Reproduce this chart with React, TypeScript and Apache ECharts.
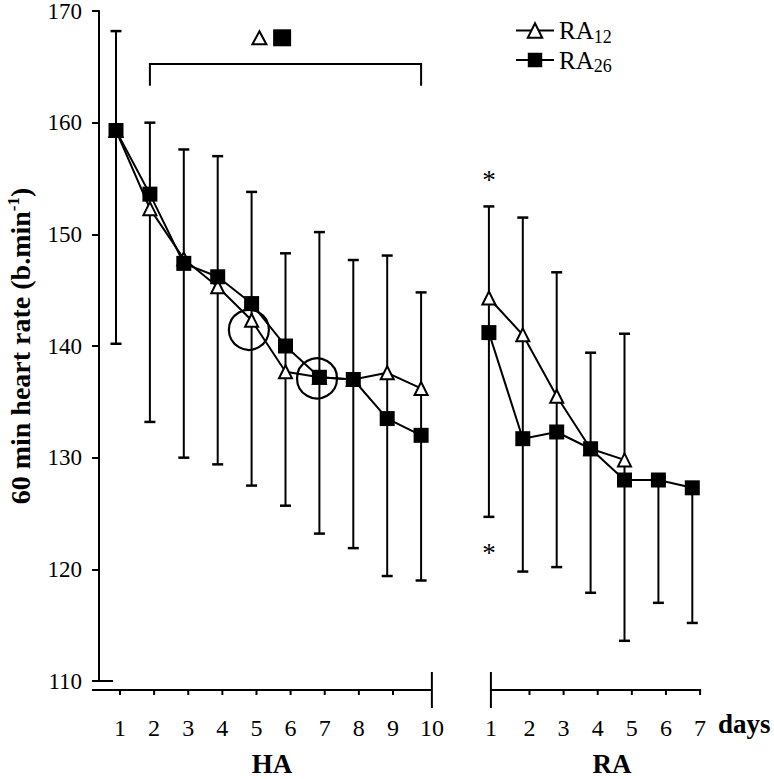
import React, { useEffect, useRef } from "react";
import * as echarts from "echarts";

// ---------- data ----------
const haDays = [1, 2, 3, 4, 5, 6, 7, 8, 9, 10];
const raDays = [1, 2, 3, 4, 5, 6, 7];

// means
const ra12HA = [159.3, 152.3, 147.8, 145.3, 142.3, 137.7, 137.2, 137.0, 137.6, 136.2];
const ra26HA = [159.3, 153.6, 147.4, 146.2, 143.8, 140.0, 137.2, 137.0, 133.5, 132.0];
const ra12RA = [144.3, 141.0, 135.5, 130.8, 129.8];
const ra26RA = [141.2, 131.7, 132.3, 130.8, 128.0, 128.0, 127.3];

// error bar ends (upper = RA12 + SD, lower = RA26 - SD)
const upperHA = [168.2, 160.0, 157.6, 157.0, 153.8, 148.3, 150.2, 147.7, 148.1, 144.8];
const lowerHA = [140.2, 133.2, 130.0, 129.4, 127.5, 125.7, 123.2, 121.9, 119.4, 119.0];
const upperRA = [152.5, 151.5, 146.6, 139.4, 141.1, null, null];
const lowerRA = [124.7, 119.8, 120.2, 117.9, 113.6, 117.0, 115.2];

// annotations
const circledPoints = [
  [4.92, 141.45],
  [6.93, 137.1],
];
const bracketDays = [2, 10];
const bracketY = [165.25, 163.3];
const sigSymbolX = [5.23, 5.9];
const sigSymbolY = 167.6;
const starDay = 1; // RA day
const starY = [154.9, 121.5];

// axes
const yTickValues = [110, 120, 130, 140, 150, 160, 170];
const haTickLabels = ["1", "2", "3", "4", "5", "6", "7", "8", "9", "10"];
const raTickLabels = ["1", "2", "3", "4", "5", "6", "7"];
const groupLabels = ["HA", "RA"];
const unitLabel = "days";
const yTitle = "60 min heart rate (b.min";
const yTitleSup = "-1";

// ---------- layout constants ----------
const RA_OFFSET = 11; // RA day d is plotted at x = 11 + d
const X_MIN = 0.5;
const X_MAX = 18.5;
const END_NUDGE = 0.14;
const START_NUDGE = 0.13;
const SERIF = "'Liberation Serif', 'Times New Roman', serif";
const BLACK = "#000";

const haX = (d: number) => d;
const raX = (d: number) => RA_OFFSET + d;

const labelPos: number[] = [
  ...haDays.map((d) => (d === 10 ? 10 + END_NUDGE : haX(d))),
  ...raDays.map((d) => (d === 1 ? raX(1) - START_NUDGE : raX(d))),
];
const labelText: string[] = [...haTickLabels, ...raTickLabels];

function buildOption(): any {
  const errData: number[][] = [
    ...haDays.map((d, i) => [haX(d), lowerHA[i], upperHA[i] ?? ra26HA[i], upperHA[i] == null ? 0 : 1]),
    ...raDays.map((d, i) => [raX(d), lowerRA[i], upperRA[i] ?? ra26RA[i], upperRA[i] == null ? 0 : 1]),
  ];

  const ra12Style = {
    symbol: "triangle",
    symbolSize: 13,
    itemStyle: { color: "#fff", borderColor: BLACK, borderWidth: 2, opacity: 1 },
    lineStyle: { color: BLACK, width: 2 },
  };
  const ra26Style = {
    symbol: "rect",
    symbolSize: 15,
    itemStyle: { color: BLACK, borderColor: BLACK, borderWidth: 0, opacity: 1 },
    lineStyle: { color: BLACK, width: 2 },
  };

  const stroke = { stroke: BLACK, lineWidth: 2 };

  return {
    animation: false,
    backgroundColor: "#fff",
    grid: [
      { left: 99.05, top: 11, width: 610.2, height: 670, outerBoundsMode: "none" },
      { left: 102.94, top: 672, width: 614.2, height: 36, outerBoundsMode: "none" },
    ],
    xAxis: [
      { type: "value", gridIndex: 0, min: X_MIN, max: X_MAX, show: false },
      {
        type: "value",
        gridIndex: 1,
        min: X_MIN,
        max: X_MAX,
        axisLine: { show: false },
        axisTick: { show: false },
        splitLine: { show: false },
        axisLabel: {
          customValues: labelPos,
          formatter: (v: number) => {
            const i = labelPos.findIndex((p) => Math.abs(p - v) < 1e-6);
            return i >= 0 ? labelText[i] : "";
          },
          margin: 8,
          fontFamily: SERIF,
          fontSize: 24,
          color: BLACK,
        },
      },
    ],
    yAxis: [
      {
        type: "value",
        gridIndex: 0,
        min: yTickValues[0],
        max: yTickValues[yTickValues.length - 1],
        interval: 10,
        axisLine: { show: true, lineStyle: { color: BLACK, width: 2 } },
        axisTick: { show: true, length: 7, lineStyle: { color: BLACK, width: 2 } },
        splitLine: { show: false },
        axisLabel: { fontFamily: SERIF, fontSize: 23, color: BLACK, margin: 17 },
        name: `{t|${yTitle}}{sup|${yTitleSup}}{t|)}`,
        nameLocation: "middle",
        nameRotate: 90,
        nameGap: 64,
        nameTextStyle: {
          rich: {
            t: { fontFamily: SERIF, fontSize: 28, fontWeight: "bold", color: BLACK, lineHeight: 30 },
            sup: {
              fontFamily: SERIF,
              fontSize: 17,
              fontWeight: "bold",
              color: BLACK,
              lineHeight: 17,
              verticalAlign: "top",
            },
          },
        },
      },
      { type: "value", gridIndex: 1, min: 0, max: 1, show: false },
    ],
    legend: {
      data: ["RA12", "RA26"],
      orient: "vertical",
      left: 510,
      top: 13,
      itemWidth: 38,
      itemHeight: 18,
      itemGap: 2,
      selectedMode: false,
      formatter: (name: string) => `{m|${name.slice(0, 2)}}{s|${name.slice(2)}}`,
      textStyle: {
        color: BLACK,
        fontFamily: SERIF,
        rich: {
          m: { fontFamily: SERIF, fontSize: 25, color: BLACK, lineHeight: 30 },
          s: { fontFamily: SERIF, fontSize: 18, color: BLACK, lineHeight: 17, verticalAlign: "bottom" },
        },
      },
    },
    graphic: [
      {
        type: "text",
        x: 272,
        y: 764,
        style: { text: groupLabels[0], font: `bold 27px ${SERIF}`, fill: BLACK, textAlign: "center", textVerticalAlign: "middle" },
      },
      {
        type: "text",
        x: 612,
        y: 764,
        style: { text: groupLabels[1], font: `bold 27px ${SERIF}`, fill: BLACK, textAlign: "center", textVerticalAlign: "middle" },
      },
      {
        type: "text",
        x: 718,
        y: 724,
        style: { text: unitLabel, font: `bold 27px ${SERIF}`, fill: BLACK, textAlign: "left", textVerticalAlign: "middle" },
      },
    ],
    series: [
      // error bars
      {
        type: "custom",
        xAxisIndex: 0,
        yAxisIndex: 0,
        silent: true,
        clip: false,
        encode: { x: 0, y: [1, 2] },
        data: errData,
        renderItem: (_p: any, api: any) => {
          const x = api.value(0);
          const lo = api.coord([x, api.value(1)]);
          const hi = api.coord([x, api.value(2)]);
          const hasTop = api.value(3) === 1;
          const hw = 5.5;
          const children: any[] = [
            { type: "line", shape: { x1: lo[0], y1: lo[1], x2: hi[0], y2: hi[1] }, style: stroke },
            { type: "line", shape: { x1: lo[0] - hw, y1: lo[1], x2: lo[0] + hw, y2: lo[1] }, style: { stroke: BLACK, lineWidth: 2.5 } },
          ];
          if (hasTop) {
            children.push({
              type: "line",
              shape: { x1: hi[0] - hw, y1: hi[1], x2: hi[0] + hw, y2: hi[1] },
              style: { stroke: BLACK, lineWidth: 2.5 },
            });
          }
          return { type: "group", children };
        },
        z: 1,
      },
      {
        name: "RA12",
        type: "line",
        xAxisIndex: 0,
        yAxisIndex: 0,
        silent: true,
        data: haDays.map((d, i) => [haX(d), ra12HA[i]]),
        ...ra12Style,
        z: 2,
      },
      {
        name: "RA12",
        type: "line",
        xAxisIndex: 0,
        yAxisIndex: 0,
        silent: true,
        data: ra12RA.map((v, i) => [raX(raDays[i]), v]),
        ...ra12Style,
        z: 2,
      },
      {
        name: "RA26",
        type: "line",
        xAxisIndex: 0,
        yAxisIndex: 0,
        silent: true,
        data: haDays.map((d, i) => [haX(d), ra26HA[i]]),
        ...ra26Style,
        z: 3,
      },
      {
        name: "RA26",
        type: "line",
        xAxisIndex: 0,
        yAxisIndex: 0,
        silent: true,
        data: raDays.map((d, i) => [raX(d), ra26RA[i]]),
        ...ra26Style,
        z: 3,
      },
      // circled points
      {
        type: "scatter",
        xAxisIndex: 0,
        yAxisIndex: 0,
        silent: true,
        symbol: "circle",
        symbolSize: 40,
        itemStyle: { color: "rgba(0,0,0,0)", borderColor: BLACK, borderWidth: 2.2, opacity: 1 },
        data: circledPoints,
        z: 4,
      },
      // significance symbols
      {
        type: "scatter",
        xAxisIndex: 0,
        yAxisIndex: 0,
        silent: true,
        data: [
          {
            value: [sigSymbolX[0], sigSymbolY],
            symbol: "triangle",
            symbolSize: [14, 13],
            itemStyle: { color: "#fff", borderColor: BLACK, borderWidth: 2, opacity: 1 },
          },
          {
            value: [sigSymbolX[1], sigSymbolY],
            symbol: "rect",
            symbolSize: [18, 17],
            itemStyle: { color: BLACK, opacity: 1 },
          },
        ],
        z: 4,
      },
      // bracket, asterisks, base tick extension
      {
        type: "custom",
        xAxisIndex: 0,
        yAxisIndex: 0,
        silent: true,
        clip: false,
        data: [[X_MIN, yTickValues[0]]],
        renderItem: (_p: any, api: any) => {
          const a = api.coord([bracketDays[0], bracketY[0]]);
          const b = api.coord([bracketDays[1], bracketY[0]]);
          const drop = api.coord([bracketDays[0], bracketY[1]])[1];
          const base = api.coord([X_MIN, yTickValues[0]]);
          const s1 = api.coord([raX(starDay), starY[0]]);
          const s2 = api.coord([raX(starDay), starY[1]]);
          const starStyle = (p: number[]) => ({
            type: "text",
            x: p[0],
            y: p[1],
            style: { text: "*", font: `27px ${SERIF}`, fill: BLACK, textAlign: "center", textVerticalAlign: "middle" },
          });
          return {
            type: "group",
            children: [
              {
                type: "polyline",
                shape: { points: [[a[0], drop], [a[0], a[1]], [b[0], b[1]], [b[0], drop]] },
                style: { stroke: BLACK, lineWidth: 2, fill: "none" },
              },
              { type: "line", shape: { x1: base[0], y1: base[1], x2: base[0] + 14, y2: base[1] }, style: stroke },
              starStyle(s1),
              starStyle(s2),
            ],
          };
        },
        z: 4,
      },
      // broken bottom axis
      {
        type: "custom",
        xAxisIndex: 1,
        yAxisIndex: 1,
        silent: true,
        clip: false,
        data: [[X_MIN, 0.5]],
        renderItem: (_p: any, api: any) => {
          const y = api.coord([X_MIN, 0.5])[1];
          const yTop = api.coord([X_MIN, 1])[1];
          const yBot = api.coord([X_MIN, 0])[1];
          const px = (v: number) => api.coord([v, 0.5])[0];
          const haStart = px(X_MIN) - 11;
          const haEnd = px(10 + END_NUDGE);
          const raStart = px(raX(1) - START_NUDGE);
          const raEnd = px(raX(7)) + 1;
          const children: any[] = [
            { type: "line", shape: { x1: haStart, y1: y, x2: haEnd, y2: y }, style: stroke },
            { type: "line", shape: { x1: raStart, y1: y, x2: raEnd, y2: y }, style: stroke },
            { type: "line", shape: { x1: haEnd, y1: yTop, x2: haEnd, y2: yBot }, style: stroke },
            { type: "line", shape: { x1: raStart, y1: yTop, x2: raStart, y2: yBot }, style: stroke },
          ];
          haDays.slice(0, 9).forEach((d) => {
            const x = px(haX(d));
            children.push({ type: "line", shape: { x1: x, y1: y, x2: x, y2: y + 5 }, style: stroke });
          });
          raDays.slice(1).forEach((d) => {
            const x = px(raX(d));
            children.push({ type: "line", shape: { x1: x, y1: y, x2: x, y2: y + 5 }, style: stroke });
          });
          return { type: "group", children };
        },
        z: 4,
      },
    ],
  };
}

export default function App() {
  const ref = useRef<HTMLDivElement>(null);
  useEffect(() => {
    if (!ref.current) return;
    const chart = echarts.init(ref.current, null, { renderer: "svg" });
    chart.setOption(buildOption());
    return () => chart.dispose();
  }, []);
  return (
    <div
      ref={ref}
      style={{ position: "fixed", left: 0, top: 0, width: 774, height: 779, background: "#fff" }}
    />
  );
}
